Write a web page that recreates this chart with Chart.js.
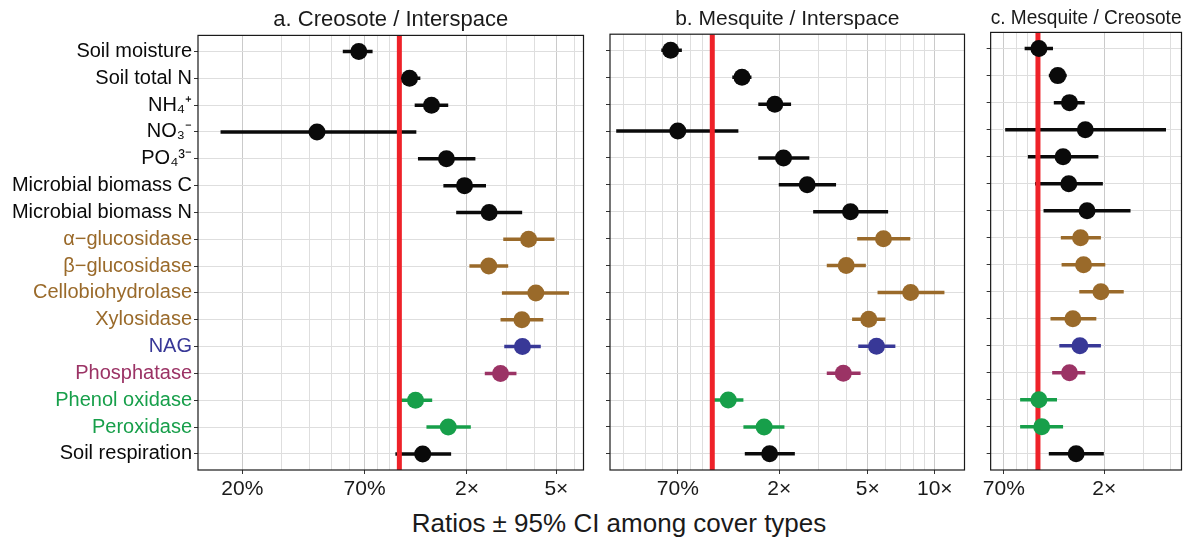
<!DOCTYPE html>
<html>
<head>
<meta charset="utf-8">
<script src="https://cdn.jsdelivr.net/npm/chart.js@4/dist/chart.umd.min.js"></script>
<style>
  body { margin: 0; background: #fff; width: 1200px; height: 545px; position: relative; overflow: hidden;
         font-family: "Liberation Sans", Arial, sans-serif; }
  canvas { position: absolute; top: 0; }
  #xtitle { position: absolute; left: 0; width: 1238px; top: 508px; line-height: 30px;
            text-align: center; font-size: 26px; color: #1a1a1a; }
</style>
</head>
<body>
<canvas id="panelA" width="592" height="500" style="left:0"></canvas>
<canvas id="panelB" width="373" height="500" style="left:600px"></canvas>
<canvas id="panelC" width="211" height="500" style="left:979px"></canvas>
<div id="xtitle">Ratios ± 95% CI among cover types</div>
<script>
// rows, top to bottom
const rows = ['Soil moisture', 'Soil total N', 'NH₄⁺', 'NO₃⁻', 'PO₄³⁻',
  'Microbial biomass C', 'Microbial biomass N', 'α−glucosidase', 'β−glucosidase',
  'Cellobiohydrolase', 'Xylosidase', 'NAG', 'Phosphatase', 'Phenol oxidase',
  'Peroxidase', 'Soil respiration'];
const rowGroups = ['soil', 'soil', 'soil', 'soil', 'soil', 'microbe', 'microbe',
  'carbon', 'carbon', 'carbon', 'carbon', 'nitrogen', 'phosphorus', 'oxidative',
  'oxidative', 'soil'];

// a. Creosote / Interspace
const aMid = [0.66, 1.11, 1.39, 0.43, 1.62, 1.95, 2.51, 3.76, 2.50, 4.05, 3.51, 3.53, 2.82, 1.18, 1.65, 1.27];
const aLo  = [0.56, 0.99, 1.17, 0.16, 1.21, 1.57, 1.79, 2.90, 2.05, 2.86, 2.82, 2.93, 2.40, 0.99, 1.32, 0.96];
const aHi  = [0.76, 1.24, 1.65, 1.19, 2.18, 2.43, 3.52, 4.90, 3.05, 5.69, 4.37, 4.26, 3.32, 1.40, 2.08, 1.70];

// b. Mesquite / Interspace
const bMid = [0.65, 1.36, 1.91, 0.70, 2.09, 2.67, 4.18, 5.88, 4.00, 7.79, 5.05, 5.47, 3.88, 1.18, 1.71, 1.81];
const bLo  = [0.59, 1.23, 1.61, 0.37, 1.61, 1.99, 2.84, 4.48, 3.27, 5.53, 4.25, 4.53, 3.27, 1.01, 1.38, 1.40];
const bHi  = [0.73, 1.50, 2.26, 1.31, 2.73, 3.60, 6.17, 7.76, 4.90, 11.05, 6.00, 6.65, 4.64, 1.38, 2.11, 2.35];

// c. Mesquite / Creosote
const cMid = [1.01, 1.23, 1.39, 1.64, 1.30, 1.38, 1.67, 1.56, 1.61, 1.93, 1.44, 1.55, 1.39, 1.01, 1.04, 1.49];
const cLo  = [0.87, 1.12, 1.18, 0.71, 0.90, 0.97, 1.06, 1.27, 1.28, 1.54, 1.14, 1.25, 1.16, 0.83, 0.83, 1.12];
const cHi  = [1.17, 1.35, 1.63, 3.81, 1.88, 1.97, 2.63, 1.93, 2.02, 2.45, 1.84, 1.93, 1.64, 1.22, 1.30, 1.99];

// x tick labels and grid lines
const aTickValues = [0.2, 0.7, 2, 5];
const aTickLabels = ['20%', '70%', '2×', '5×'];
const bTickValues = [0.7, 2, 5, 10];
const bTickLabels = ['70%', '2×', '5×', '10×'];
const cTickValues = [0.7, 2];
const cTickLabels = ['70%', '2×'];
const aGrid = [0.2, 0.3, 0.4, 0.5, 0.6, 0.7, 0.8, 0.9, 1, 2, 3, 4, 5, 6];
const bGrid = [0.4, 0.5, 0.6, 0.7, 0.8, 0.9, 1, 2, 3, 4, 5, 6, 7, 8, 9, 10];
const cGrid = [0.7, 0.8, 0.9, 1, 2, 3, 4];

const groupColors = {
  soil: '#0a0a0a', microbe: '#0a0a0a', carbon: '#9a6a2a',
  nitrogen: '#383897', phosphorus: '#9b3365', oxidative: '#179f4a'
};
const fontFamily = '"Liberation Sans", Arial, sans-serif';
Chart.defaults.font.family = fontFamily;

// black box round each panel
const frame = {
  id: 'frame',
  afterDraw(chart) {
    const {ctx, chartArea: a} = chart;
    ctx.save();
    ctx.strokeStyle = '#1a1a1a';
    ctx.lineWidth = 1.2;
    ctx.strokeRect(a.left, a.top, a.right - a.left, a.bottom - a.top);
    ctx.restore();
  }
};

const panels = [
  {id: 'panelA', title: 'a. Creosote / Interspace', titleSize: 22, mid: aMid, lo: aLo, hi: aHi,
   min: 0.127, max: 6.6, grid: aGrid, tickValues: aTickValues, tickLabels: aTickLabels, showRows: true, yWidth: 198},
  {id: 'panelB', title: 'b. Mesquite / Interspace', titleSize: 21, mid: bMid, lo: bLo, hi: bHi,
   min: 0.347, max: 13.6, grid: bGrid, tickValues: bTickValues, tickLabels: bTickLabels, showRows: false, yWidth: 10},
  {id: 'panelC', title: 'c. Mesquite / Creosote', titleSize: 19.5, mid: cMid, lo: cLo, hi: cHi,
   min: 0.61, max: 4.48, grid: cGrid, tickValues: cTickValues, tickLabels: cTickLabels, showRows: false, yWidth: 10}
];

panels.forEach(p => {
  const label = v => {
    const i = p.tickValues.indexOf(v);
    return i >= 0 ? p.tickLabels[i] : '';
  };
  const errorBars = rows.map((r, i) => ({
    type: 'line',
    showLine: true,
    data: [{x: p.lo[i], y: i + 1}, {x: p.hi[i], y: i + 1}],
    borderColor: groupColors[rowGroups[i]],
    borderWidth: 3.5,
    borderCapStyle: 'butt',
    pointRadius: 0,
    order: 3
  }));
  const refLine = {
    type: 'line',
    showLine: true,
    data: [{x: 1, y: 0.4}, {x: 1, y: 16.6}],
    borderColor: '#ee2229',
    borderWidth: 5,
    pointRadius: 0,
    order: 2
  };
  const points = {
    type: 'scatter',
    data: rows.map((r, i) => ({x: p.mid[i], y: i + 1})),
    backgroundColor: rows.map((r, i) => groupColors[rowGroups[i]]),
    pointRadius: 8.5,
    borderWidth: 0,
    order: 1
  };

  new Chart(document.getElementById(p.id), {
    type: 'scatter',
    data: {datasets: [...errorBars, refLine, points]},
    plugins: [frame],
    options: {
      responsive: false,
      animation: false,
      events: [],
      layout: {padding: {left: 0, right: 7, top: 0, bottom: 0}},
      plugins: {
        legend: {display: false},
        tooltip: {enabled: false},
        title: {
          display: true, text: p.title, fullSize: false, color: '#1a1a1a',
          font: {size: p.titleSize, weight: 'normal', family: fontFamily},
          padding: {top: 7, bottom: 2}
        }
      },
      scales: {
        x: {
          type: 'logarithmic', min: p.min, max: p.max, bounds: 'data',
          afterBuildTicks: s => {
            s.ticks = p.grid.map(v => ({value: v}));
            s.min = p.min;
            s.max = p.max;
          },
          afterFit: s => { s.height = 30; },
          border: {display: false},
          grid: {
            color: c => label(c.tick.value) ? '#cacaca' : '#dedede',
            lineWidth: 1,
            tickLength: 4,
            tickColor: c => label(c.tick.value) ? '#333' : 'rgba(0,0,0,0)'
          },
          ticks: {
            autoSkip: false, maxRotation: 0, minRotation: 0, padding: 3, color: '#1a1a1a',
            font: {size: 21, family: fontFamily},
            callback: v => label(v)
          }
        },
        y: {
          type: 'linear', reverse: true, min: 0.4, max: 16.6,
          afterBuildTicks: s => { s.ticks = rows.map((r, i) => ({value: i + 1})); },
          afterFit: s => { s.width = p.yWidth; },
          border: {display: false},
          grid: {color: '#dedede', lineWidth: 1, tickLength: 4, tickColor: '#333'},
          ticks: {
            display: p.showRows, autoSkip: false, padding: 2,
            font: {size: 20, family: fontFamily},
            color: c => groupColors[rowGroups[c.tick.value - 1]] || '#000',
            callback: v => rows[v - 1]
          }
        }
      }
    }
  });
});
</script>
</body>
</html>
